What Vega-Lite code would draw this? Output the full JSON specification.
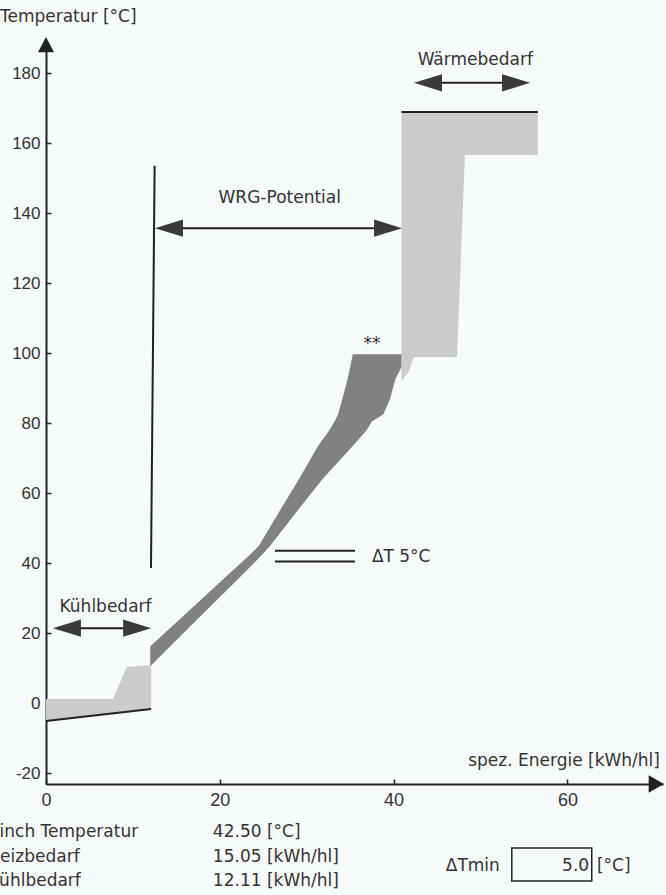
{
  "$schema": "https://vega.github.io/schema/vega-lite/v6.json",
  "width": 617,
  "height": 739,
  "autosize": {"type": "none"},
  "padding": {"left": 46, "top": 45, "right": 3, "bottom": 111},
  "background": "#f7fafa",
  "config": {
    "view": {"stroke": null},
    "text": {"font": "DejaVu Sans", "fontSize": 17, "color": "#333333", "baseline": "middle"},
    "axis": {"labelFont": "Liberation Sans", "labelFontSize": 18, "labelColor": "#333333", "grid": false, "domainColor": "#222222", "domainWidth": 2, "tickColor": "#222222", "tickWidth": 1.5, "title": null}
  },
  "datasets": {
    "coldUtil": [
      {"E": 0, "T": -5.0, "T2": 1.3},
      {"E": 7.7, "T": -2.84, "T2": 1.3},
      {"E": 9.3, "T": -2.39, "T2": 10.5},
      {"E": 12.1, "T": -1.6, "T2": 11.0}
    ],
    "band": [
      {"T": 10.6, "E": 12.0, "E2": 12.0},
      {"T": 16.3, "E": 12.0, "E2": 14.3},
      {"T": 25, "E": 15.8, "E2": 17.8},
      {"T": 35, "E": 20.2, "E2": 21.9},
      {"T": 42.5, "E": 23.5, "E2": 24.9},
      {"T": 45, "E": 24.5, "E2": 25.8},
      {"T": 54.6, "E": 26.8, "E2": 28.8},
      {"T": 64, "E": 29.1, "E2": 31.8},
      {"T": 73.5, "E": 31.3, "E2": 35.3},
      {"T": 78, "E": 32.6, "E2": 36.9},
      {"T": 80.5, "E": 33.2, "E2": 37.5},
      {"T": 82.5, "E": 33.6, "E2": 38.8},
      {"T": 87, "E": 34.1, "E2": 39.6},
      {"T": 92.6, "E": 34.7, "E2": 40.2},
      {"T": 96, "E": 35.0, "E2": 40.9},
      {"T": 99.7, "E": 35.3, "E2": 40.9}
    ],
    "hotUtil": [
      {"E": 40.9, "T": 92.0, "T2": 168.9},
      {"E": 41.8, "T": 95.0, "T2": 168.9},
      {"E": 42.3, "T": 98.9, "T2": 168.9},
      {"E": 47.3, "T": 98.9, "T2": 168.9},
      {"E": 48.2, "T": 156.6, "T2": 168.9},
      {"E": 56.6, "T": 156.6, "T2": 168.9}
    ],
    "segments": [
      {"name": "cold line", "E": 0, "T": -5.0, "E2": 12.1, "T2": -1.6},
      {"name": "hot line", "E": 40.9, "T": 168.9, "E2": 56.6, "T2": 168.9},
      {"name": "WRG start", "E": 12.5, "T": 153.5, "E2": 12.08, "T2": 38.7},
      {"name": "dT upper", "E": 26.35, "T": 43.6, "E2": 35.56, "T2": 43.6},
      {"name": "dT lower", "E": 26.35, "T": 40.5, "E2": 35.56, "T2": 40.5},
      {"name": "WRG arrow", "E": 13.5, "T": 135.7, "E2": 40.0, "T2": 135.7},
      {"name": "Waerme arrow", "E": 43.3, "T": 177.2, "E2": 54.7, "T2": 177.2},
      {"name": "Kuehl arrow", "E": 1.8, "T": 21.5, "E2": 11.1, "T2": 21.5}
    ],
    "heads": [
      {"E": 12.54, "T": 135.7, "dir": "L"},
      {"E": 40.97, "T": 135.7, "dir": "R"},
      {"E": 42.35, "T": 177.2, "dir": "L"},
      {"E": 55.7, "T": 177.2, "dir": "R"},
      {"E": 0.8, "T": 21.5, "dir": "L"},
      {"E": 12.1, "T": 21.5, "dir": "R"}
    ],
    "axisHeads": [
      {"E": 0, "T": 190.3, "dir": "AU"},
      {"E": 71.1, "T": -23, "dir": "AR"}
    ],
    "textCenter": [
      {"E": 49.4, "T": 183.7, "label": "Wärmebedarf"},
      {"E": 26.9, "T": 144.3, "label": "WRG-Potential"},
      {"E": 6.85, "T": 27.6, "label": "Kühlbedarf"},
      {"E": 37.5, "T": 102.6, "label": "**"}
    ],
    "textLeft": [
      {"E": -5.3, "T": 196, "label": "Temperatur [°C]"},
      {"E": 37.5, "T": 41.8, "label": "ΔT 5°C"},
      {"E": -6.48, "T": -36.7, "label": "Pinch Temperatur"},
      {"E": -6.75, "T": -43.8, "label": "Heizbedarf"},
      {"E": -6.58, "T": -50.7, "label": "Kühlbedarf"},
      {"E": 19.2, "T": -36.7, "label": "42.50 [°C]"},
      {"E": 19.2, "T": -43.8, "label": "15.05 [kWh/hl]"},
      {"E": 19.2, "T": -50.7, "label": "12.11 [kWh/hl]"},
      {"E": 46.0, "T": -46.4, "label": "ΔTmin"},
      {"E": 63.4, "T": -46.4, "label": "[°C]"}
    ],
    "textRight": [
      {"E": 70.65, "T": -16.4, "label": "spez. Energie [kWh/hl]"},
      {"E": 62.5, "T": -46.4, "label": "5.0"}
    ],
    "box": [
      {"E": 53.6, "T": -41.3, "E2": 62.8, "T2": -50.7}
    ]
  },
  "encoding": {
    "x": {"field": "E", "type": "quantitative", "scale": {"domain": [0, 71], "nice": false, "zero": false},
      "axis": {"values": [0, 20, 40, 60], "tickSize": -5, "labelPadding": 12, "labelFlush": false}},
    "y": {"field": "T", "type": "quantitative", "scale": {"domain": [-23, 188], "nice": false, "zero": false},
      "axis": {"values": [-20, 0, 20, 40, 60, 80, 100, 120, 140, 160, 180], "tickSize": -5, "labelPadding": 11, "labelFlush": false, "labelFontSize": 17, "labelExpr": "replace(datum.label, '−', '-')"}}
  },
  "layer": [
    {
      "data": {"name": "coldUtil"},
      "mark": {"type": "area", "color": "#cbcbcb"},
      "encoding": {"y2": {"field": "T2"}}
    },
    {
      "data": {"name": "hotUtil"},
      "mark": {"type": "area", "color": "#cbcbcb"},
      "encoding": {"y2": {"field": "T2"}}
    },
    {
      "data": {"name": "band"},
      "mark": {"type": "area", "orient": "horizontal", "color": "#818181"},
      "encoding": {"x2": {"field": "E2"}}
    },
    {
      "data": {"name": "segments"},
      "mark": {"type": "rule", "color": "#222222", "strokeWidth": 2},
      "encoding": {"x2": {"field": "E2"}, "y2": {"field": "T2"}}
    },
    {
      "data": {"name": "heads"},
      "mark": {"type": "point", "filled": true, "color": "#3a3a3a", "opacity": 1, "size": 784},
      "encoding": {
        "shape": {"field": "dir", "type": "nominal", "legend": null,
          "scale": {"domain": ["L", "R", "AU", "AR"], "range": ["M0,0L2,-0.62L2,0.62Z", "M0,0L-2,-0.62L-2,0.62Z", "M0,0L-1,1.9L1,1.9Z", "M0,0L-1.9,-1.1L-1.9,1.1Z"]}}
      }
    },
    {
      "data": {"name": "axisHeads"},
      "mark": {"type": "point", "filled": true, "color": "#222222", "opacity": 1, "size": 256},
      "encoding": {
        "shape": {"field": "dir", "type": "nominal", "legend": null,
          "scale": {"domain": ["L", "R", "AU", "AR"], "range": ["M0,0L2,-0.62L2,0.62Z", "M0,0L-2,-0.62L-2,0.62Z", "M0,0L-1,1.9L1,1.9Z", "M0,0L-1.9,-1.1L-1.9,1.1Z"]}}
      }
    },
    {
      "data": {"name": "box"},
      "mark": {"type": "rect", "fill": null, "stroke": "#222222", "strokeWidth": 1.5},
      "encoding": {"x2": {"field": "E2"}, "y2": {"field": "T2"}}
    },
    {
      "data": {"name": "textCenter"},
      "mark": {"type": "text", "align": "center"},
      "encoding": {"text": {"field": "label"}}
    },
    {
      "data": {"name": "textLeft"},
      "mark": {"type": "text", "align": "left"},
      "encoding": {"text": {"field": "label"}}
    },
    {
      "data": {"name": "textRight"},
      "mark": {"type": "text", "align": "right"},
      "encoding": {"text": {"field": "label"}}
    }
  ]
}
